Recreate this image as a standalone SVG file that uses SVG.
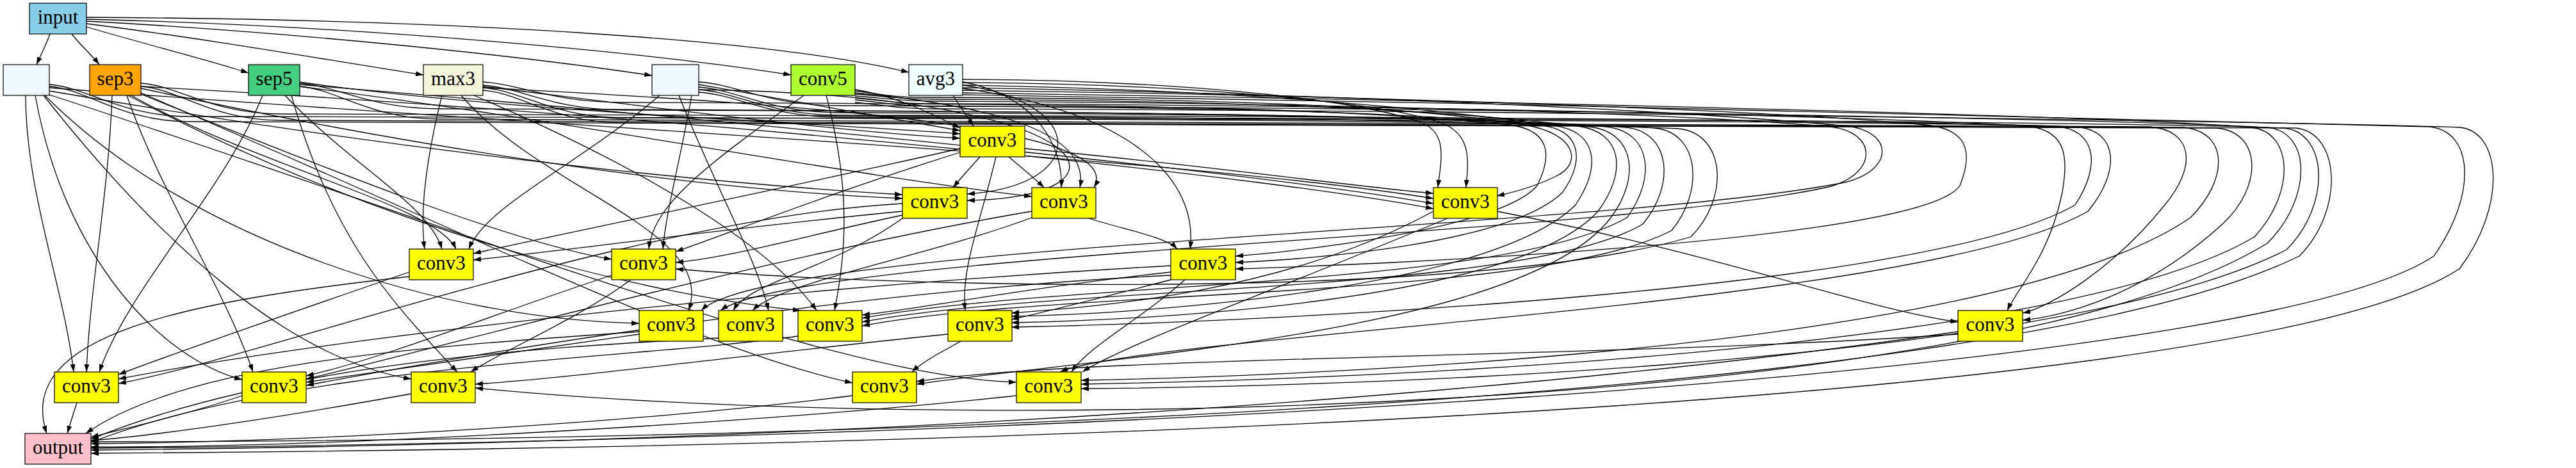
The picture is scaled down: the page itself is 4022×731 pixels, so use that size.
<svg xmlns="http://www.w3.org/2000/svg" width="4022" height="731" viewBox="0 0 4022 731">
<style>
.e{fill:none;stroke:#000;stroke-width:1.3;marker-end:url(#a)}
.n rect{stroke:#000;stroke-width:1.2}
.n text{font-family:"Liberation Serif","Times New Roman",serif;font-size:31px;text-anchor:middle;fill:#000}
.c3 rect{fill:#ffff00}
</style>
<defs>
<marker id="a" markerUnits="userSpaceOnUse" markerWidth="12" markerHeight="8" refX="12" refY="4" orient="auto"><path d="M0,0 L12,4 L0,8 z" fill="#000"/></marker>
</defs>
<rect width="4022" height="731" fill="#fff"/>
<g id="connectors">
<path class="e" d="M78,53 C72,70 64,85 57,101"/>
<path class="e" d="M112,53 C125,70 145,88 155,101"/>
<path class="e" d="M135,42 C230,70 330,95 388,114"/>
<path class="e" d="M135,37 C320,60 520,95 661,117"/>
<path class="e" d="M135,33 C450,50 800,85 1018,118"/>
<path class="e" d="M135,30 C550,40 1000,80 1235,117"/>
<path class="e" d="M135,27 C700,30 1200,60 1419,113"/>
<path class="e" d="M1488,149 C1498,165 1510,182 1520,197"/>
<path class="e" d="M1335,140 C1400,150 1460,180 1499,200"/>
<path class="e" d="M1091,132 C1250,160 1420,190 1499,204"/>
<path class="e" d="M467,128 C800,175 1250,190 1499,209"/>
<path class="e" d="M754,135 C1000,165 1300,205 1499,216"/>
<path class="e" d="M1530,245 C1515,262 1500,278 1488,293"/>
<path class="e" d="M77,142 C500,215 1000,280 1409,304"/>
<path class="e" d="M220,138 C600,220 1050,295 1409,310"/>
<path class="e" d="M1503,133 C1700,160 1700,290 1510,303"/>
<path class="e" d="M1091,140 C1750,150 1780,310 1510,313"/>
<path class="e" d="M1575,245 C1595,262 1615,278 1630,293"/>
<path class="e" d="M1503,128 C1620,150 1660,230 1657,293"/>
<path class="e" d="M1335,145 C1600,170 1700,220 1686,293"/>
<path class="e" d="M754,137 C1300,165 1760,200 1708,293"/>
<path class="e" d="M467,135 C900,190 1300,270 1611,307"/>
<path class="e" d="M1600,232 C1900,260 2100,290 2238,302"/>
<path class="e" d="M77,137 C800,195 1800,240 2238,310"/>
<path class="e" d="M467,132 C1000,175 1900,260 2238,318"/>
<path class="e" d="M220,135 C1200,190 2000,280 2238,326"/>
<path class="e" d="M690,149 C665,250 655,330 663,389"/>
<path class="e" d="M445,149 C550,260 670,320 690,389"/>
<path class="e" d="M205,149 C400,260 680,320 712,389"/>
<path class="e" d="M1030,149 C900,260 760,320 732,389"/>
<path class="e" d="M1499,232 C1200,300 900,360 739,396"/>
<path class="e" d="M1409,330 C1100,360 900,390 739,406"/>
<path class="e" d="M1255,149 C1100,260 1020,320 1013,389"/>
<path class="e" d="M1080,149 C1060,260 1040,330 1035,389"/>
<path class="e" d="M1499,238 C1300,300 1150,360 1055,393"/>
<path class="e" d="M1409,336 C1250,370 1150,400 1055,410"/>
<path class="e" d="M215,145 C500,260 800,380 955,405"/>
<path class="e" d="M1700,341 C1760,360 1820,370 1838,389"/>
<path class="e" d="M1503,138 C1800,180 1870,300 1858,389"/>
<path class="e" d="M70,149 C300,380 700,500 998,505"/>
<path class="e" d="M720,149 C850,300 1120,360 1075,485"/>
<path class="e" d="M1409,341 C1300,420 1170,440 1145,485"/>
<path class="e" d="M1611,340 C1450,400 1220,440 1175,485"/>
<path class="e" d="M1060,149 C1120,300 1180,400 1200,485"/>
<path class="e" d="M1290,149 C1330,300 1320,400 1303,485"/>
<path class="e" d="M200,149 C600,360 1000,460 1250,485"/>
<path class="e" d="M740,149 C1000,260 1200,380 1275,485"/>
<path class="e" d="M1828,425 C1600,450 1450,480 1346,492"/>
<path class="e" d="M1555,245 C1530,350 1500,420 1507,485"/>
<path class="e" d="M2238,330 C2000,460 1700,480 1579,489"/>
<path class="e" d="M1828,437 C1700,470 1620,490 1579,499"/>
<path class="e" d="M2337,330 C2700,400 2900,480 3057,503"/>
<path class="e" d="M40,149 C40,300 100,450 115,581"/>
<path class="e" d="M175,149 C170,300 140,450 135,581"/>
<path class="e" d="M410,149 C350,300 200,450 155,581"/>
<path class="e" d="M639,425 C450,490 250,560 185,585"/>
<path class="e" d="M1828,415 C1200,450 500,530 185,592"/>
<path class="e" d="M1409,318 C1000,340 400,560 185,599"/>
<path class="e" d="M198,149 C250,300 350,450 395,581"/>
<path class="e" d="M55,149 C100,400 250,560 378,593"/>
<path class="e" d="M955,430 C800,480 600,560 478,587"/>
<path class="e" d="M1611,330 C1200,400 700,540 478,592"/>
<path class="e" d="M998,522 C800,550 600,580 478,597"/>
<path class="e" d="M1828,430 C1300,455 700,560 478,602"/>
<path class="e" d="M68,149 C250,380 450,560 642,592"/>
<path class="e" d="M455,149 C520,380 620,480 714,581"/>
<path class="e" d="M985,437 C900,500 780,550 735,581"/>
<path class="e" d="M1480,522 C1200,550 900,590 742,600"/>
<path class="e" d="M1500,533 C1470,550 1440,565 1424,581"/>
<path class="e" d="M220,145 C700,350 1100,550 1331,598"/>
<path class="e" d="M3057,522 C2500,560 1700,555 1431,596"/>
<path class="e" d="M1850,437 C1780,500 1700,540 1673,581"/>
<path class="e" d="M2260,341 C2000,450 1750,540 1690,581"/>
<path class="e" d="M77,148 C700,350 1300,590 1587,597"/>
<path class="e" d="M120,629 C115,645 110,660 105,677"/>
<path class="e" d="M639,432 C300,470 20,520 73,677"/>
<path class="e" d="M998,518 C700,540 300,560 134,677"/>
<path class="e" d="M378,618 C300,645 200,668 142,683"/>
<path class="e" d="M642,615 C450,650 250,680 142,688"/>
<path class="e" d="M1331,618 C1000,660 500,690 142,693"/>
<path class="e" d="M1587,618 C1200,660 500,700 142,698"/>
<path class="e" d="M3057,518 C2500,600 1500,690 142,703"/>
<path class="e" d="M1122,528 C900,540 450,560 142,686"/>
<path class="e" d="M1246,525 C1000,560 450,570 142,691"/>
<path class="e" d="M1503,124 C1800,125 2100,150 2215,190 C2262,205 2250,250 2245,293"/>
<path class="e" d="M1503,129 C1800,130 2150,155 2250,192 C2300,210 2292,255 2289,293"/>
<path class="e" d="M1335,142 C1370,146 1390,152 1440,152 C1900,154 2200,165 2380,195 C2460,208 2472,255 2430,275 C2400,290 2365,300 2337,306"/>
<path class="e" d="M754,128 C814,132 864,160 974,160 C1800,162 2100,170 2348,194 C2420,200 2425,240 2400,290 C2340,360 2000,395 1929,400"/>
<path class="e" d="M1091,128 C1151,132 1201,165 1311,165 C1900,167 2200,175 2400,195 C2470,201 2475,250 2440,300 C2360,380 2050,405 1929,410"/>
<path class="e" d="M1503,133 C1900,140 2200,165 2425,196 C2495,205 2500,260 2460,320 C2330,450 1800,490 1579,494"/>
<path class="e" d="M1335,147 C1380,150 1400,155 1460,155 C1900,157 2250,170 2463,197 C2535,206 2540,270 2495,330 C2370,470 1800,500 1579,504"/>
<path class="e" d="M467,130 C527,134 577,170 687,170 C1500,172 2200,178 2482,198 C2555,207 2560,280 2515,340 C2380,520 1700,560 1431,600"/>
<path class="e" d="M754,133 C814,137 864,172 974,172 C1700,174 2250,180 2508,198 C2580,206 2585,280 2540,340 C2350,450 1650,440 1346,497"/>
<path class="e" d="M1091,136 C1151,140 1201,176 1311,176 C1900,178 2300,182 2539,199 C2610,207 2615,290 2565,350 C2380,460 1650,445 1346,503"/>
<path class="e" d="M220,130 C280,134 330,178 440,178 C1400,180 2300,184 2584,200 C2655,208 2660,300 2610,360 C2400,470 1650,450 1346,509"/>
<path class="e" d="M77,132 C137,136 187,182 297,182 C1400,184 2300,186 2622,201 C2695,210 2700,310 2640,370 C2300,470 1400,450 1055,420"/>
<path class="e" d="M1503,137 C2000,145 2600,170 2884,197 C2955,205 2960,265 2880,285 C2500,360 1200,380 1095,485"/>
<path class="e" d="M1335,150 C1380,153 1400,158 1460,158 C2000,160 2600,175 2858,198 C2930,206 2935,270 2855,292 C2500,370 1250,395 1125,485"/>
<path class="e" d="M1503,141 C2200,150 2800,175 3005,195 C3075,201 3080,240 3060,290 C3000,380 2100,415 1929,420"/>
<path class="e" d="M1335,153 C1380,157 1400,162 1460,162 C2200,164 2900,182 3158,196 C3225,201 3230,240 3220,300 C3200,400 3150,450 3134,485"/>
<path class="e" d="M1091,140 C1151,144 1201,180 1311,180 C2200,182 2900,187 3207,197 C3275,201 3280,260 3240,320 C3000,460 1900,505 1579,511"/>
<path class="e" d="M754,137 C814,141 864,184 974,184 C2000,186 3000,189 3240,198 C3310,203 3310,270 3260,330 C3000,480 1800,520 1655,581"/>
<path class="e" d="M467,135 C527,139 577,186 687,186 C2000,188 3100,190 3357,198 C3425,204 3430,260 3380,320 C3300,420 3200,480 3158,489"/>
<path class="e" d="M220,135 C280,139 330,188 440,188 C2000,190 3100,191 3409,199 C3480,206 3480,280 3420,340 C3100,560 1900,590 1688,594"/>
<path class="e" d="M77,135 C137,139 187,190 297,190 C2000,192 3200,192 3461,200 C3530,206 3535,290 3470,350 C3350,460 3220,495 3158,500"/>
<path class="e" d="M1503,145 C2200,155 3300,180 3514,199 C3580,205 3585,300 3520,370 C3200,560 2000,595 1688,600"/>
<path class="e" d="M1335,156 C1380,160 1400,166 1460,166 C2300,168 3300,186 3540,199 C3610,206 3610,310 3540,380 C3100,650 1500,680 742,606"/>
<path class="e" d="M1091,144 C1151,148 1201,183 1311,183 C2300,185 3300,190 3566,200 C3635,207 3640,320 3570,390 C3200,580 2000,605 1688,607"/>
<path class="e" d="M754,141 C814,145 864,192 974,192 C2300,194 3300,193 3585,200 C3655,208 3660,330 3590,400 C3100,640 1200,690 142,690"/>
<path class="e" d="M1503,148 C2300,160 3500,185 3794,198 C3860,205 3870,300 3800,400 C3500,600 1500,690 142,700"/>
<path class="e" d="M1335,160 C1380,164 1400,170 1460,170 C2300,172 3600,190 3841,199 C3905,206 3915,320 3840,420 C3500,640 1500,700 142,708"/>
</g>
<g id="n-input" class="n"><rect x="46" y="5" width="89" height="48" fill="#87ceeb"/><text x="90.5" y="37">input</text></g>
<g id="n-skip1" class="n"><rect x="5" y="101" width="72" height="48" fill="#f0f8ff"/></g>
<g id="n-sep3" class="n"><rect x="140" y="101" width="80" height="48" fill="#ffa500"/><text x="180" y="133">sep3</text></g>
<g id="n-sep5" class="n"><rect x="388" y="101" width="80" height="48" fill="#43cd80"/><text x="428" y="133">sep5</text></g>
<g id="n-max3" class="n"><rect x="661" y="101" width="93" height="48" fill="#f5f5dc"/><text x="707.5" y="133">max3</text></g>
<g id="n-skip2" class="n"><rect x="1018" y="101" width="73" height="48" fill="#f0f8ff"/></g>
<g id="n-conv5" class="n"><rect x="1235" y="101" width="100" height="48" fill="#adff2f"/><text x="1285" y="133">conv5</text></g>
<g id="n-avg3" class="n"><rect x="1419" y="101" width="84" height="48" fill="#f0ffff"/><text x="1461" y="133">avg3</text></g>
<g id="n-c2" class="n c3"><rect x="1499" y="197" width="101" height="48"/><text x="1549.5" y="229">conv3</text></g>
<g id="n-c3a" class="n c3"><rect x="1409" y="293" width="101" height="48"/><text x="1459.5" y="325">conv3</text></g>
<g id="n-c3b" class="n c3"><rect x="1611" y="293" width="100" height="48"/><text x="1661" y="325">conv3</text></g>
<g id="n-c3c" class="n c3"><rect x="2238" y="293" width="100" height="48"/><text x="2288" y="325">conv3</text></g>
<g id="n-c4a" class="n c3"><rect x="639" y="389" width="100" height="48"/><text x="689" y="421">conv3</text></g>
<g id="n-c4b" class="n c3"><rect x="955" y="389" width="100" height="48"/><text x="1005" y="421">conv3</text></g>
<g id="n-c4c" class="n c3"><rect x="1828" y="389" width="101" height="48"/><text x="1878.5" y="421">conv3</text></g>
<g id="n-c5a" class="n c3"><rect x="998" y="485" width="100" height="48"/><text x="1048" y="517">conv3</text></g>
<g id="n-c5b" class="n c3"><rect x="1122" y="485" width="100" height="48"/><text x="1172" y="517">conv3</text></g>
<g id="n-c5c" class="n c3"><rect x="1246" y="485" width="100" height="48"/><text x="1296" y="517">conv3</text></g>
<g id="n-c5d" class="n c3"><rect x="1480" y="485" width="100" height="48"/><text x="1530" y="517">conv3</text></g>
<g id="n-c5e" class="n c3"><rect x="3057" y="485" width="101" height="48"/><text x="3107.5" y="517">conv3</text></g>
<g id="n-c6a" class="n c3"><rect x="85" y="581" width="100" height="48"/><text x="135" y="613">conv3</text></g>
<g id="n-c6b" class="n c3"><rect x="378" y="581" width="100" height="48"/><text x="428" y="613">conv3</text></g>
<g id="n-c6c" class="n c3"><rect x="642" y="581" width="100" height="48"/><text x="692" y="613">conv3</text></g>
<g id="n-c6d" class="n c3"><rect x="1331" y="581" width="100" height="48"/><text x="1381" y="613">conv3</text></g>
<g id="n-c6e" class="n c3"><rect x="1587" y="581" width="101" height="48"/><text x="1637.5" y="613">conv3</text></g>
<g id="n-output" class="n"><rect x="39" y="677" width="103" height="48" fill="#ffc0cb"/><text x="90.5" y="709">output</text></g>
</svg>
